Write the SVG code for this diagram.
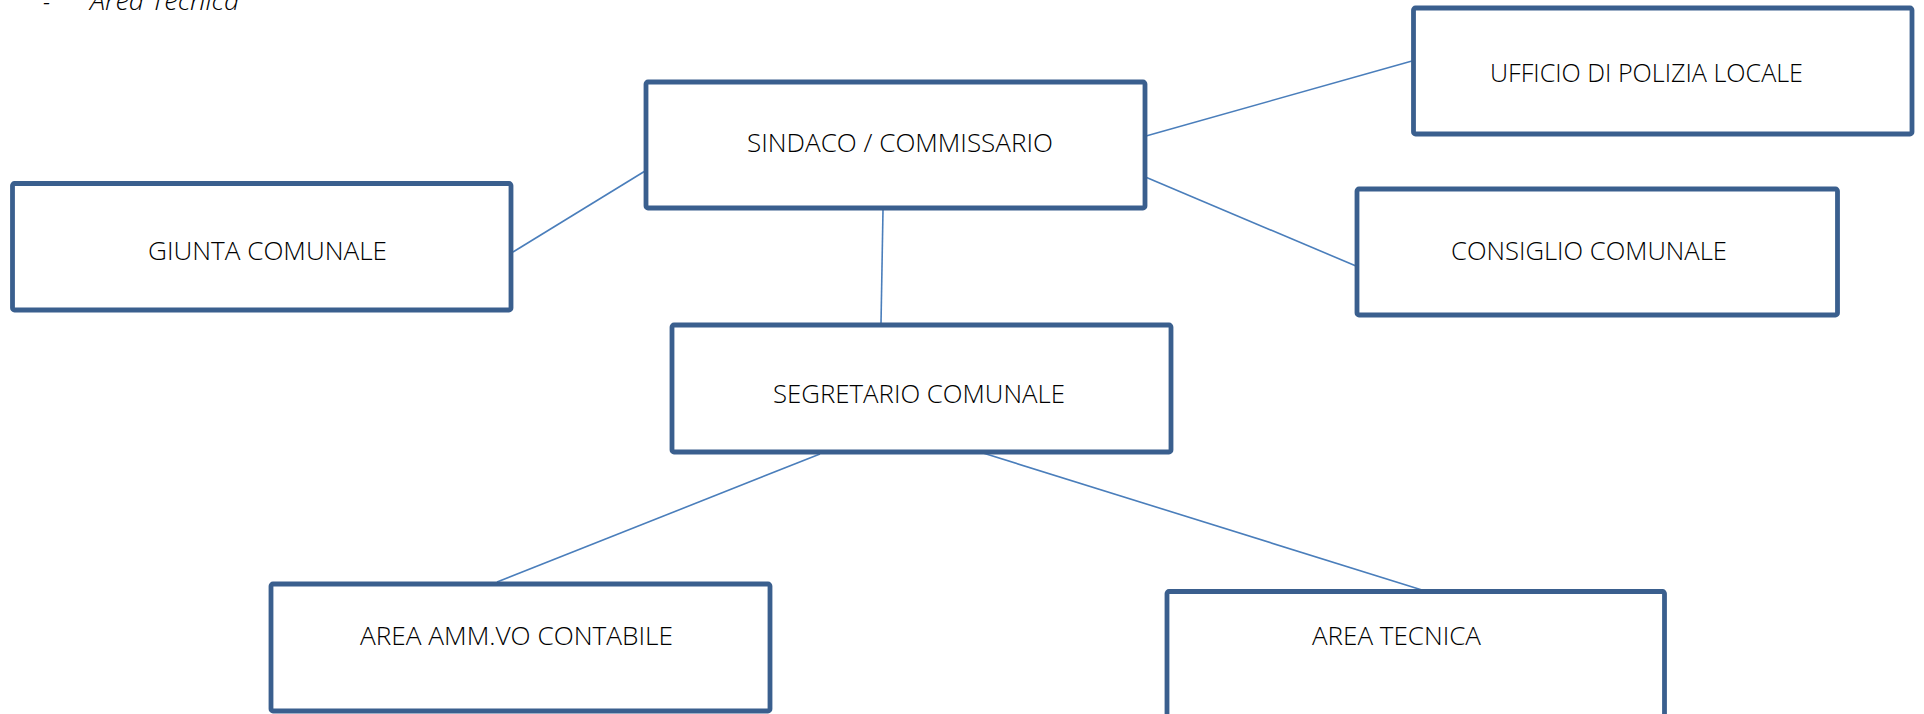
<svg xmlns="http://www.w3.org/2000/svg" width="1924" height="714" viewBox="0 0 1924 714">
<style>
.box{fill:#ffffff;stroke:#3A5F8E;stroke-width:4.8;}
.lbl{font-family:"Open Sans","Liberation Sans",sans-serif;font-weight:300;font-size:26px;fill:#000000;}
.con{stroke:#4A7EBB;stroke-width:1.6;fill:none;}
.note{font-family:"Open Sans","Liberation Sans",sans-serif;font-weight:300;font-style:italic;font-size:26px;fill:#000000;}
</style>
<rect width="1924" height="714" fill="#ffffff"/>
<g id="note">
<text class="note" x="43" y="11" textLength="7" lengthAdjust="spacingAndGlyphs">-</text>
<text class="note" x="90" y="10" textLength="149" lengthAdjust="spacingAndGlyphs">Area Tecnica</text>
</g>
<g id="connectors">
<line class="con" x1="883" y1="210" x2="881" y2="324"/>
<line class="con" x1="513" y1="252" x2="650" y2="168"/>
<line class="con" x1="1146" y1="136" x2="1412" y2="61"/>
<line class="con" x1="1143" y1="176" x2="1356" y2="266"/>
<line class="con" x1="820" y1="454" x2="497" y2="582"/>
<line class="con" x1="983" y1="453" x2="1422" y2="590"/>
</g>
<g id="sindaco">
<rect class="box" x="646" y="82" width="499" height="126" rx="2"/>
<text class="lbl" x="747" y="152" textLength="306" lengthAdjust="spacingAndGlyphs">SINDACO / COMMISSARIO</text>
</g>
<g id="ufficio">
<rect class="box" x="1413.5" y="8" width="498.5" height="126" rx="2"/>
<text class="lbl" x="1490" y="82" textLength="313" lengthAdjust="spacingAndGlyphs">UFFICIO DI POLIZIA LOCALE</text>
</g>
<g id="giunta">
<rect class="box" x="12.5" y="183.5" width="498.5" height="126.5" rx="2"/>
<text class="lbl" x="148" y="260" textLength="239" lengthAdjust="spacingAndGlyphs">GIUNTA COMUNALE</text>
</g>
<g id="consiglio">
<rect class="box" x="1357" y="189" width="480.5" height="126" rx="2"/>
<text class="lbl" x="1451" y="260" textLength="276" lengthAdjust="spacingAndGlyphs">CONSIGLIO COMUNALE</text>
</g>
<g id="segretario">
<rect class="box" x="672" y="325" width="499" height="127" rx="2"/>
<text class="lbl" x="773" y="403" textLength="292" lengthAdjust="spacingAndGlyphs">SEGRETARIO COMUNALE</text>
</g>
<g id="area-amm">
<rect class="box" x="271" y="584" width="499" height="127" rx="2"/>
<text class="lbl" x="360" y="645" textLength="313" lengthAdjust="spacingAndGlyphs">AREA AMM.VO CONTABILE</text>
</g>
<g id="area-tecnica">
<rect class="box" x="1167" y="591.5" width="497.5" height="127" rx="2"/>
<text class="lbl" x="1312" y="645" textLength="169" lengthAdjust="spacingAndGlyphs">AREA TECNICA</text>
</g>
</svg>
